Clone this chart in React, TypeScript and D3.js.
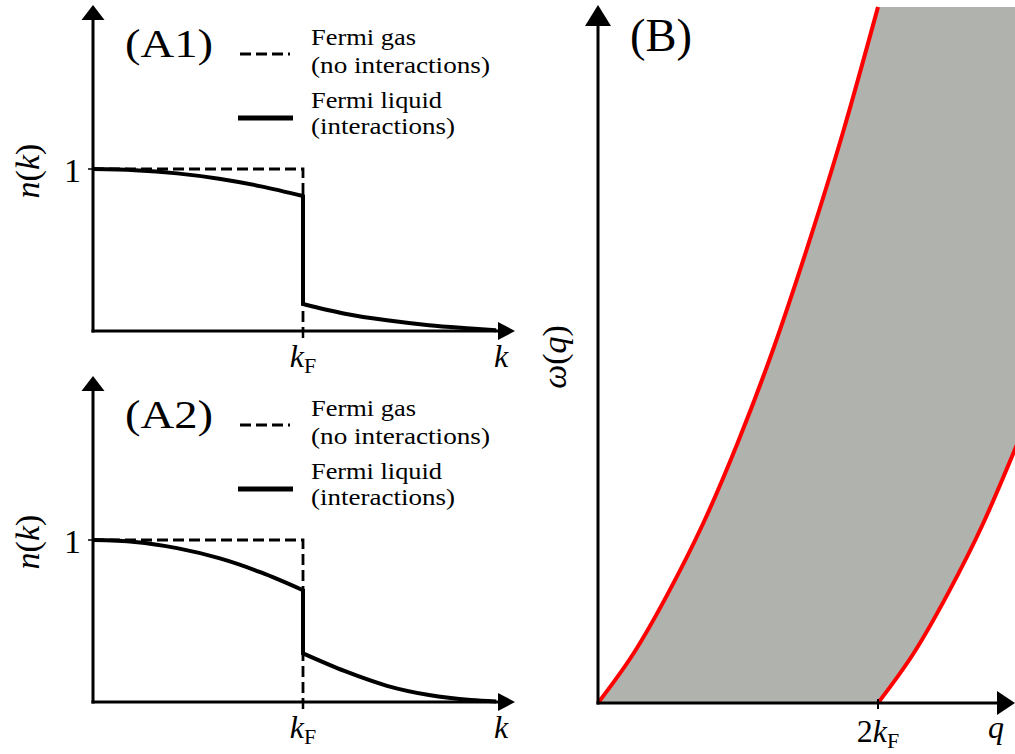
import { useEffect, useRef } from "react";
import * as d3 from "d3";

const WIDTH = 1015;
const HEIGHT = 754;
const FONT = "Liberation Serif, DejaVu Serif, serif";

// n(k), k in units of kF
const kBelow = [0, 0.2, 0.4, 0.6, 0.8, 1.0];
const kAbove = [1.0, 1.2, 1.4, 1.6, 1.8, 1.92];
const a1Below = [1, 0.993, 0.973, 0.94, 0.893, 0.833];
const a1Above = [0.167, 0.107, 0.066, 0.036, 0.016, 0.005];
const a2Below = [1, 0.988, 0.95, 0.888, 0.8, 0.69];
const a2Above = [0.3, 0.19, 0.1, 0.043, 0.012, 0.003];
const gasK = [0, 1, 1];
const gasN = [1, 1, 0];

// continuum edges in panel B (q in kF)
const qUpper = [0, 0.25, 0.5, 0.75, 1, 1.25, 1.5, 1.75, 2];
const wUpper = [0, 0.28, 0.63, 1.03, 1.5, 2.03, 2.63, 3.28, 4];
const qLower = [2, 2.25, 2.5, 2.75, 3];
const wLower = [0, 0.28, 0.63, 1.03, 1.5];

const panelLabels = ["(A1)", "(A2)"];
const legendGas = ["Fermi gas", "(no interactions)"];
const legendLiquid = ["Fermi liquid", "(interactions)"];

type Sel = d3.Selection<SVGGElement, unknown, null, undefined>;

function arrow(g: Sel, x1: number, y1: number, x2: number, y2: number, len: number, half: number) {
  const dx = x2 - x1, dy = y2 - y1;
  const L = Math.hypot(dx, dy);
  const ux = dx / L, uy = dy / L;
  const bx = x2 - ux * len, by = y2 - uy * len;
  g.append("line")
    .attr("x1", x1).attr("y1", y1).attr("x2", bx).attr("y2", by)
    .attr("stroke", "#000").attr("stroke-width", 3);
  g.append("path")
    .attr("d", `M${x2},${y2}L${bx - uy * half},${by + ux * half}L${bx + uy * half},${by - ux * half}Z`)
    .attr("fill", "#000");
}

function subLabel(g: Sel, x: number, y: number, pre: string) {
  const t = g.append("text")
    .attr("x", x).attr("y", y)
    .attr("text-anchor", "middle")
    .attr("font-size", 32);
  if (pre) t.append("tspan").text(pre);
  t.append("tspan").attr("font-style", "italic").text("k");
  t.append("tspan").attr("dy", 6).attr("font-size", 22).text("F");
}

export default function App() {
  const svgRef = useRef<SVGSVGElement | null>(null);

  useEffect(() => {
    const svg = svgRef.current;
    if (!svg) return;
    svg.innerHTML = "";
    const root = d3.select(svg).append("g").attr("font-family", FONT) as unknown as Sel;

    // ---- panels A1 / A2
    const x = d3.scaleLinear().domain([0, 2]).range([93, 513]);
    const panels = [
      { label: panelLabels[0], below: a1Below, above: a1Above, dy: 0 },
      { label: panelLabels[1], below: a2Below, above: a2Above, dy: 371 },
    ];

    panels.forEach((p) => {
      const y = d3.scaleLinear().domain([0, 2]).range([331 + p.dy, 7 + p.dy]);
      const g = root.append("g");
      const line = d3.line<number>().curve(d3.curveMonotoneX);

      // Fermi gas step
      g.append("path")
        .attr("d", d3.line<number>()(gasK.map((k, i) => [x(k), y(gasN[i])]) as any))
        .attr("fill", "none").attr("stroke", "#000")
        .attr("stroke-width", 2.8).attr("stroke-dasharray", "11,5");
      g.append("line")
        .attr("x1", x(1)).attr("x2", x(1))
        .attr("y1", y(0)).attr("y2", y(0) + 7)
        .attr("stroke", "#000").attr("stroke-width", 2.5);

      // Fermi liquid
      const pts: [number, number][] = kBelow.map((k, i) => [x(k), y(p.below[i])]);
      const pts2: [number, number][] = kAbove.map((k, i) => [x(k), y(p.above[i])]);
      g.append("path")
        .attr("d", line(pts as any)! + `L${x(1)},${y(p.above[0])}` + line(pts2 as any)!.replace(/^M/, "L"))
        .attr("fill", "none").attr("stroke", "#000")
        .attr("stroke-width", 4).attr("stroke-linejoin", "miter");

      // axes
      arrow(g, x(0), y(0) + 1.5, x(0), 5 + p.dy, 15, 11.5);
      arrow(g, x(0) - 1.5, y(0), 515, y(0), 17, 9);
      g.append("line")
        .attr("x1", x(0) - 5).attr("x2", x(0))
        .attr("y1", y(1)).attr("y2", y(1))
        .attr("stroke", "#000").attr("stroke-width", 1.5);

      // tick labels
      g.append("text")
        .attr("x", 81).attr("y", y(1) + 13)
        .attr("text-anchor", "end")
        .attr("font-size", 34)
        .text("1");
      subLabel(g, x(1), 367 + p.dy, "");
      g.append("text")
        .attr("x", 501).attr("y", 367 + p.dy)
        .attr("text-anchor", "middle")
        .attr("font-size", 32).attr("font-style", "italic")
        .text("k");

      // y label n(k)
      const yl = g.append("text")
        .attr("transform", `translate(39,${171 + p.dy}) rotate(-90)`)
        .attr("text-anchor", "middle")
        .attr("font-size", 34);
      yl.append("tspan").attr("font-style", "italic").text("n");
      yl.append("tspan").text("(");
      yl.append("tspan").attr("font-style", "italic").text("k");
      yl.append("tspan").text(")");

      // panel label
      g.append("text")
        .attr("x", 125).attr("y", 57 + p.dy)
        .attr("textLength", 88).attr("lengthAdjust", "spacingAndGlyphs")
        .attr("font-size", 40)
        .text(p.label);

      // legend
      g.append("line")
        .attr("x1", 240).attr("x2", 290).attr("y1", 54 + p.dy).attr("y2", 54 + p.dy)
        .attr("stroke", "#000").attr("stroke-width", 2.8).attr("stroke-dasharray", "11,5");
      g.append("line")
        .attr("x1", 238).attr("x2", 293).attr("y1", 118 + p.dy).attr("y2", 118 + p.dy)
        .attr("stroke", "#000").attr("stroke-width", 5);
      const lines = [...legendGas, ...legendLiquid];
      const base = [45, 73, 108, 134];
      const widths = [105, 179, 131, 144];
      lines.forEach((s, i) => {
        g.append("text")
          .attr("x", 311).attr("y", base[i] + p.dy)
          .attr("textLength", widths[i]).attr("lengthAdjust", "spacingAndGlyphs")
          .attr("font-size", 23)
          .text(s);
      });
    });

    // ---- panel B
    const bx = d3.scaleLinear().domain([0, 2]).range([598, 878]);
    const by = d3.scaleLinear().domain([0, 4]).range([703, 7]);
    const gb = root.append("g");
    const bline = d3.line<number>().curve(d3.curveNatural);
    const upperPts = qUpper.map((q, i) => [bx(q), by(wUpper[i])]);
    const lowerPts = qLower.map((q, i) => [bx(q), by(wLower[i])]);
    const lowerRev = [...lowerPts].reverse();
    const qEnd = qLower[qLower.length - 1];
    const fillD =
      bline(upperPts as any)! +
      `L${bx(qEnd)},${by(4)}` +
      bline(lowerRev as any)!.replace(/^M/, "L") +
      "Z";
    gb.append("path").attr("d", fillD).attr("fill", "#b0b2ad");
    gb.append("path").attr("d", bline(upperPts as any)!)
      .attr("fill", "none").attr("stroke", "#ff0000").attr("stroke-width", 4);
    gb.append("path").attr("d", bline(lowerPts as any)!)
      .attr("fill", "none").attr("stroke", "#ff0000").attr("stroke-width", 4);

    arrow(gb, bx(0), by(0) + 1.5, bx(0), 5, 21, 13);
    arrow(gb, bx(0) - 1.5, by(0), 1015, by(0), 18, 12);
    gb.append("line")
      .attr("x1", bx(2)).attr("x2", bx(2)).attr("y1", by(0) - 4).attr("y2", by(0) + 6)
      .attr("stroke", "#000").attr("stroke-width", 2);

    subLabel(gb, bx(2), 742, "2");
    gb.append("text")
      .attr("x", 996).attr("y", 738)
      .attr("text-anchor", "middle")
      .attr("font-size", 32).attr("font-style", "italic")
      .text("q");
    const wl = gb.append("text")
      .attr("transform", `translate(566,357) rotate(-90)`)
      .attr("text-anchor", "middle")
      .attr("font-size", 34);
    wl.append("tspan").attr("font-style", "italic").text("ω");
    wl.append("tspan").text("(");
    wl.append("tspan").attr("font-style", "italic").text("q");
    wl.append("tspan").text(")");

    gb.append("text")
      .attr("x", 630).attr("y", 51)
      .attr("textLength", 62).attr("lengthAdjust", "spacingAndGlyphs")
      .attr("font-size", 46)
      .text("(B)");
  }, []);

  return (
    <svg
      ref={svgRef}
      width={WIDTH}
      height={HEIGHT}
      style={{ position: "absolute", left: 0, top: 0, background: "#fff" }}
    />
  );
}
